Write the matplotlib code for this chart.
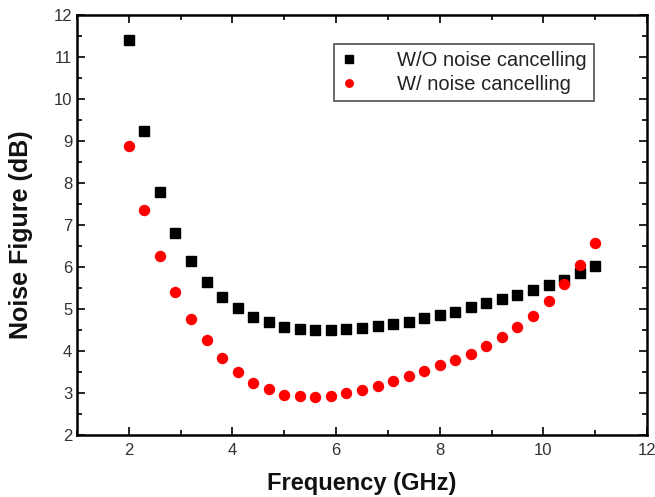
import matplotlib
matplotlib.use("Agg")
import matplotlib.pyplot as plt
from matplotlib.ticker import MultipleLocator

plt.rcParams['font.family'] = ['Liberation Sans', 'DejaVu Sans']

freq = [2.0 + 0.3 * i for i in range(31)]
nf_without = [11.40, 9.24, 7.79, 6.82, 6.14, 5.64, 5.28, 5.02, 4.82, 4.68,
              4.58, 4.52, 4.50, 4.51, 4.52, 4.54, 4.60, 4.64, 4.70, 4.78,
              4.86, 4.93, 5.04, 5.14, 5.23, 5.33, 5.45, 5.57, 5.69, 5.85, 6.03]
nf_with = [8.89, 7.36, 6.26, 5.41, 4.77, 4.26, 3.84, 3.49, 3.25, 3.09,
           2.96, 2.92, 2.90, 2.94, 2.99, 3.07, 3.17, 3.28, 3.40, 3.52,
           3.66, 3.79, 3.94, 4.13, 4.34, 4.58, 4.84, 5.19, 5.60, 6.05, 6.56]

fig = plt.figure(figsize=(6.55, 4.97), dpi=100)
ax = fig.add_axes([0.1176, 0.1247, 0.8702, 0.8451])

ax.plot(freq, nf_without, linestyle='none', marker='s', markersize=6.8,
        color='black', label='W/O noise cancelling')
ax.plot(freq, nf_with, linestyle='none', marker='o', markersize=7.2,
        color='#ff0000', label='W/ noise cancelling')

ax.set_xlim(1, 12)
ax.set_ylim(2, 12)
ax.xaxis.set_major_locator(MultipleLocator(2))
ax.xaxis.set_minor_locator(MultipleLocator(1))
ax.yaxis.set_major_locator(MultipleLocator(1))
ax.yaxis.set_minor_locator(MultipleLocator(0.5))
ax.tick_params(which='both', direction='in', top=True, right=True, width=1.2,
               labelsize=12, labelcolor='#333333')
ax.tick_params(which='major', length=6)
ax.tick_params(which='minor', length=3.5)
ax.tick_params(axis='x', which='major', pad=6)
ax.set_xticks([2, 4, 6, 8, 10, 12])
for s in ax.spines.values():
    s.set_linewidth(1.8)

ax.set_xlabel('Frequency (GHz)', fontsize=17, fontweight='bold', labelpad=10,
              color='#111111')
ax.set_ylabel('Noise Figure (dB)', fontsize=18, fontweight='bold',
              color='#111111')
ax.yaxis.set_label_coords(-0.077, 0.476)

leg = ax.legend(loc='upper left', bbox_to_anchor=(0.45, 0.932), fontsize=14.5,
                frameon=True, fancybox=False, edgecolor='#222222',
                handlelength=0.8, handletextpad=2.0, borderpad=0.35,
                labelspacing=0.25, borderaxespad=0, markerscale=0.75)
leg.get_frame().set_linewidth(1.2)
for t in leg.get_texts():
    t.set_color('#222222')

fig.savefig('out.png', dpi=100)
